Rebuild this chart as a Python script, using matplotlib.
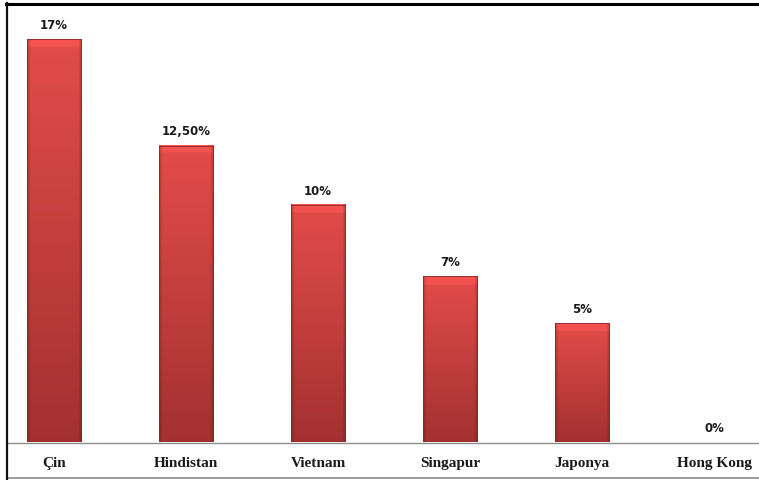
import numpy as np
import matplotlib
matplotlib.use("Agg")
import matplotlib.pyplot as plt
from matplotlib.lines import Line2D

categories = ["Çin", "Hindistan", "Vietnam", "Singapur", "Japonya", "Hong Kong"]
values = [17, 12.5, 10, 7, 5, 0]
value_labels = ["17%", "12,50%", "10%", "7%", "5%", "0%"]

W, H = 759, 481
fig = plt.figure(figsize=(W / 100, H / 100), dpi=100)
fig.patch.set_facecolor("white")

# plot area in pixel coordinates
left_px, right_px = 8, 759
top_px, base_px = 4, 443
ax = fig.add_axes([left_px / W, (H - base_px) / H,
                   (right_px - left_px) / W, (base_px - top_px) / H])
ax.set_xlim(-0.348, 5.34)
ax.set_ylim(0, 18.52)
ax.axis("off")

bar_w = 0.41

# shaded bar texture: light red at top, darker towards the base, bevelled sides
ny, nx = 200, 60
t = np.linspace(0, 1, ny)[:, None]          # 0 top, 1 bottom
top_c = np.array([0.89, 0.30, 0.29])
bot_c = np.array([0.64, 0.19, 0.19])
base = top_c[None, None, :] * (1 - t[..., None]) + bot_c[None, None, :] * t[..., None]
xs = np.linspace(0, 1, nx)[None, :]
edge = np.clip(np.minimum(xs, 1 - xs) / 0.06, 0, 1)
shade = 0.78 + 0.22 * edge
tex = base * shade[..., None]
tex = np.broadcast_to(tex, (ny, nx, 3)).copy()

for i, v in enumerate(values):
    if v > 0:
        x0, x1 = i - bar_w / 2, i + bar_w / 2
        img = tex.copy()
        # slightly lighter cap at the top of the bar
        cap = max(1, int(ny * 0.35 / v))
        img[:cap] = np.clip(img[:cap] * 1.08, 0, 1)
        ax.imshow(img, extent=[x0, x1, 0, v], aspect="auto",
                  interpolation="bilinear", zorder=2)
        ax.add_patch(plt.Rectangle((x0, 0), bar_w, v, fill=False,
                                   edgecolor="#8a2a2a", linewidth=0.6, zorder=3))
    ax.text(i, v + 0.35, value_labels[i], ha="center", va="bottom",
            fontsize=8.5, fontweight="bold", family="DejaVu Sans",
            color="#1a1a1a", zorder=4)

# category labels below the axis
for i, c in enumerate(categories):
    ax.text(i, -0.87, c, ha="center", va="center", fontsize=11,
            fontweight="bold", family="Liberation Serif", color="#1a1a1a",
            clip_on=False)

# axis line and frame lines
def hline(y_px, x0_px, x1_px, color, lw):
    fig.add_artist(Line2D([x0_px / W, x1_px / W], [1 - y_px / H, 1 - y_px / H],
                          color=color, linewidth=lw, transform=fig.transFigure))

def vline(x_px, y0_px, y1_px, color, lw):
    fig.add_artist(Line2D([x_px / W, x_px / W], [1 - y0_px / H, 1 - y1_px / H],
                          color=color, linewidth=lw, transform=fig.transFigure))

hline(443.5, 7, 759, "#8c8c8c", 1.0)
hline(479, 7, 759, "#8c8c8c", 1.2)
hline(4.5, 6, 759, "black", 2.2)
vline(7, 4, 481, "#111111", 1.6)

fig.savefig("out.png", dpi=100, facecolor="white")
